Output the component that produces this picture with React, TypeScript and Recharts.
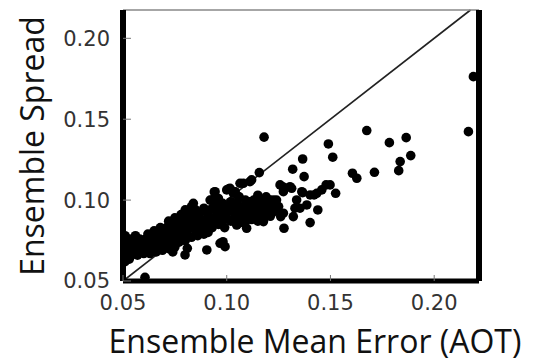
import {
  ScatterChart,
  Scatter,
  XAxis,
  YAxis,
  ReferenceLine,
} from 'recharts';

// axis extents and tick labels
const X_DOMAIN = [0.05, 0.2216];
const Y_DOMAIN = [0.05, 0.2175];
const X_TICKS = [0.05, 0.1, 0.15, 0.2];
const Y_TICKS = [0.05, 0.1, 0.15, 0.2];

// [ensemble mean error, ensemble spread]
const denseLow = [
  [0.0505, 0.066], [0.0505, 0.07], [0.0505, 0.074], [0.051, 0.078], [0.052, 0.064],
  [0.052, 0.068], [0.052, 0.072], [0.053, 0.076], [0.053, 0.07], [0.054, 0.066],
  [0.054, 0.073], [0.055, 0.068], [0.055, 0.075], [0.056, 0.071], [0.056, 0.078],
  [0.057, 0.066], [0.057, 0.069], [0.058, 0.073], [0.058, 0.076], [0.059, 0.068],
  [0.059, 0.071], [0.06, 0.074], [0.06, 0.067], [0.051, 0.062], [0.053, 0.0635],
  [0.061, 0.069], [0.061, 0.076], [0.062, 0.072], [0.062, 0.079], [0.063, 0.067],
  [0.063, 0.074], [0.064, 0.07], [0.064, 0.077], [0.065, 0.073], [0.065, 0.081],
  [0.066, 0.068], [0.066, 0.075], [0.067, 0.071], [0.067, 0.079], [0.068, 0.074],
  [0.068, 0.083], [0.069, 0.069], [0.069, 0.077], [0.07, 0.072], [0.07, 0.08],
];

const denseMid = [
  [0.071, 0.075], [0.071, 0.083], [0.072, 0.07], [0.072, 0.078], [0.073, 0.086],
  [0.073, 0.073], [0.074, 0.081], [0.074, 0.076], [0.075, 0.084], [0.075, 0.071],
  [0.076, 0.079], [0.076, 0.088], [0.077, 0.074], [0.077, 0.082], [0.078, 0.077],
  [0.078, 0.086], [0.079, 0.08], [0.079, 0.09], [0.08, 0.075], [0.08, 0.084],
  [0.081, 0.088], [0.081, 0.079], [0.082, 0.092], [0.082, 0.083], [0.083, 0.096],
  [0.083, 0.077], [0.084, 0.086], [0.084, 0.09], [0.085, 0.081], [0.085, 0.094],
  [0.086, 0.084], [0.086, 0.078], [0.087, 0.089], [0.087, 0.092], [0.088, 0.082],
  [0.088, 0.086], [0.089, 0.095], [0.089, 0.079], [0.09, 0.088], [0.09, 0.084],
  [0.091, 0.092], [0.091, 0.08], [0.092, 0.1], [0.092, 0.086], [0.093, 0.095],
  [0.093, 0.083], [0.094, 0.105], [0.094, 0.089], [0.095, 0.093], [0.095, 0.097],
  [0.096, 0.085], [0.096, 0.101], [0.097, 0.09], [0.097, 0.094], [0.098, 0.087],
  [0.098, 0.098], [0.099, 0.092], [0.099, 0.083], [0.1, 0.096], [0.1, 0.089],
  [0.072, 0.087], [0.075, 0.089], [0.078, 0.091], [0.08, 0.094], [0.074, 0.068],
];

const denseHigh = [
  [0.101, 0.093], [0.101, 0.107], [0.102, 0.087], [0.102, 0.099], [0.103, 0.095],
  [0.104, 0.105], [0.104, 0.09], [0.105, 0.085], [0.105, 0.098], [0.106, 0.093],
  [0.106, 0.102], [0.107, 0.089], [0.108, 0.096], [0.108, 0.086], [0.109, 0.1],
  [0.109, 0.092], [0.11, 0.088], [0.11, 0.095], [0.111, 0.099], [0.111, 0.091],
  [0.112, 0.094], [0.112, 0.088], [0.113, 0.1], [0.114, 0.096], [0.114, 0.091],
  [0.115, 0.103], [0.115, 0.087], [0.116, 0.098], [0.117, 0.093], [0.117, 0.1],
  [0.118, 0.096], [0.118, 0.09], [0.119, 0.102], [0.12, 0.094], [0.12, 0.098],
  [0.121, 0.09], [0.122, 0.097], [0.123, 0.093], [0.124, 0.1], [0.125, 0.096],
];

const scattered = [
  [0.2189, 0.1763], [0.2165, 0.1423], [0.118, 0.1389], [0.1675, 0.143], [0.149, 0.1347],
  [0.1784, 0.1355], [0.1865, 0.1386], [0.1887, 0.1275], [0.1836, 0.1238], [0.1829, 0.1182],
  [0.1712, 0.1172], [0.1606, 0.1166], [0.1627, 0.1135], [0.1511, 0.1265], [0.1366, 0.1254],
  [0.1318, 0.1191], [0.1373, 0.1145], [0.1525, 0.1042], [0.1479, 0.1094], [0.1458, 0.1063],
  [0.1421, 0.1032], [0.1439, 0.0939], [0.1402, 0.0861], [0.1386, 0.097], [0.1366, 0.1046],
  [0.1329, 0.095], [0.1321, 0.0898], [0.1313, 0.1073], [0.127, 0.1083], [0.1273, 0.0919],
  [0.126, 0.0898], [0.1276, 0.0826], [0.1225, 0.1001], [0.1157, 0.117], [0.1112, 0.1114],
  [0.108, 0.1104], [0.1016, 0.1073], [0.104, 0.1052], [0.1056, 0.1021], [0.0944, 0.1052],
  [0.0928, 0.1001], [0.0839, 0.098], [0.081, 0.0702], [0.0799, 0.0661], [0.0992, 0.0712],
  [0.0968, 0.0733], [0.0904, 0.0692], [0.0606, 0.0523], [0.1177, 0.0867], [0.1096, 0.0826],
  [0.1048, 0.0846], [0.112, 0.1125], [0.1305, 0.1083], [0.1362, 0.1052], [0.1402, 0.1032],
  [0.1337, 0.1001], [0.1353, 0.095], [0.1434, 0.1042], [0.1257, 0.1094], [0.1273, 0.1052],
  [0.1209, 0.1001], [0.1225, 0.096], [0.1064, 0.1104], [0.1, 0.1063], [0.1032, 0.1042],
  [0.0982, 0.0743], [0.1498, 0.1094],
];

const points = [...denseLow, ...denseMid, ...denseHigh, ...scattered].map(([x, y]) => ({ x, y }));

const tickFont = { fontFamily: 'DejaVu Sans', fontSize: 21, fill: '#333' };
const titleFont = { fontFamily: 'Open Sans', fontSize: 32, fill: '#111' };

const Dot = (props: any) => <circle cx={props.cx} cy={props.cy} r={4.8} fill="#000" />;

const [x0, x1] = X_DOMAIN;
const [y0, y1] = Y_DOMAIN;

export default function App() {
  return (
    <div style={{ position: 'absolute', left: 0, top: 0, background: '#fff' }}>
      <ScatterChart width={535} height={361} margin={{ top: 10, right: 56, bottom: 40, left: 63 }}>
        <XAxis
          type="number"
          dataKey="x"
          domain={X_DOMAIN}
          ticks={X_TICKS}
          allowDataOverflow
          height={40}
          axisLine={false}
          tickSize={-6}
          tickMargin={20}
          tickLine={{ stroke: '#777' }}
          tick={tickFont}
          tickFormatter={(v: number) => v.toFixed(2)}
        />
        <YAxis
          type="number"
          dataKey="y"
          domain={Y_DOMAIN}
          ticks={Y_TICKS}
          allowDataOverflow
          width={60}
          axisLine={false}
          tickSize={-8}
          tickMargin={21}
          tickLine={{ stroke: '#777' }}
          tick={tickFont}
          tickFormatter={(v: number) => v.toFixed(2)}
        />
        <Scatter data={points} shape={Dot} isAnimationActive={false} />
        <ReferenceLine
          segment={[{ x: x0, y: y0 }, { x: y1, y: y1 }]}
          stroke="#222"
          strokeWidth={1.6}
          ifOverflow="visible"
        />
        <ReferenceLine segment={[{ x: x0, y: y1 }, { x: x1, y: y1 }]} stroke="#888" strokeWidth={1.5} ifOverflow="visible" />
        <ReferenceLine segment={[{ x: x0, y: y0 }, { x: x0, y: y1 }]} stroke="#000" strokeWidth={6} ifOverflow="visible" />
        <ReferenceLine segment={[{ x: x1, y: y0 }, { x: x1, y: y1 }]} stroke="#000" strokeWidth={6} ifOverflow="visible" />
        <ReferenceLine segment={[{ x: x0, y: y0 }, { x: x1, y: y0 }]} stroke="#000" strokeWidth={5} ifOverflow="visible" />
        <text x={315} y={353} textAnchor="middle" style={titleFont}>
          Ensemble Mean Error (AOT)
        </text>
        <text transform="translate(44,146) rotate(-90)" textAnchor="middle" style={titleFont}>
          Ensemble Spread
        </text>
      </ScatterChart>
    </div>
  );
}
